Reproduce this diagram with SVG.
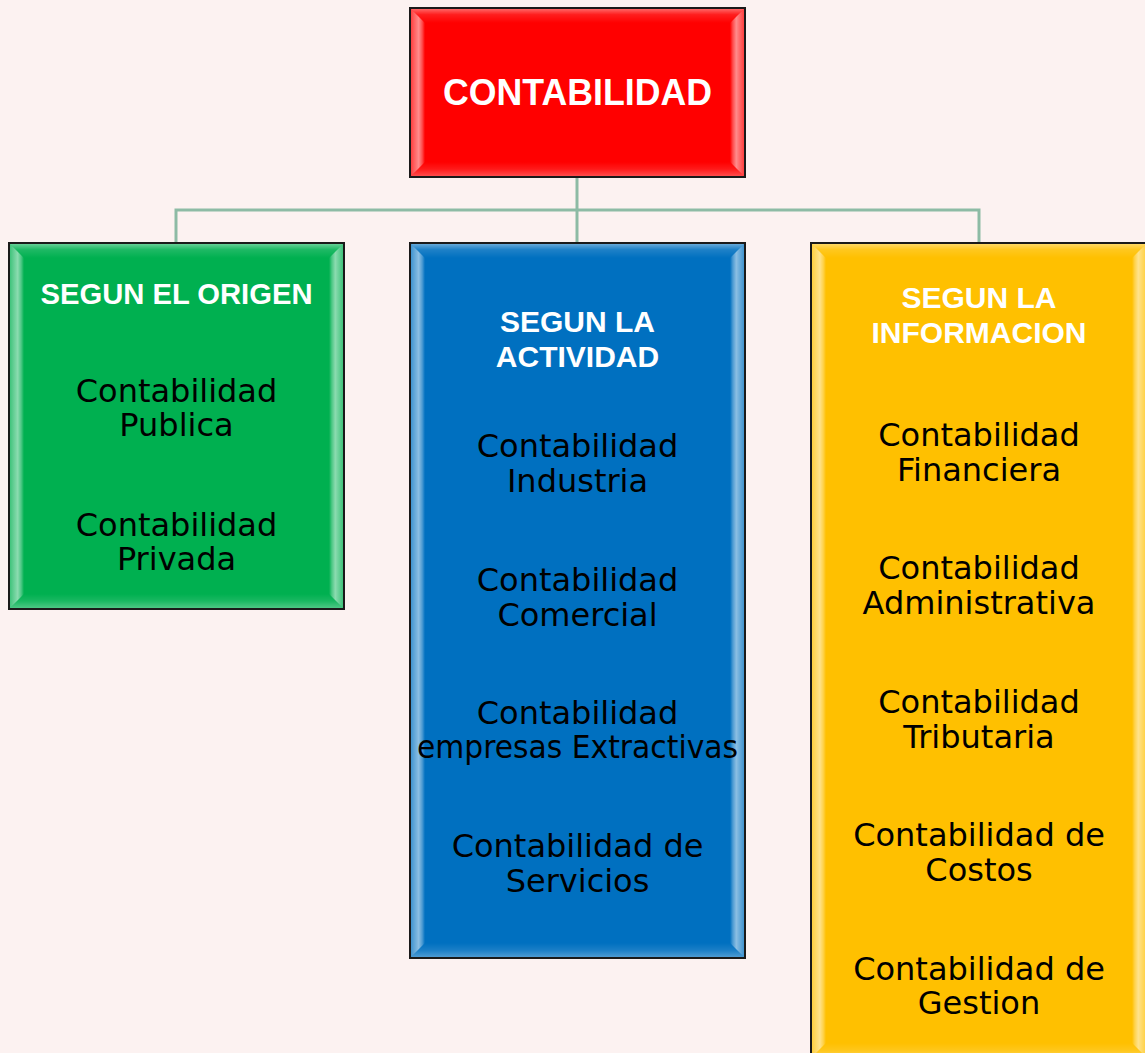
<svg xmlns="http://www.w3.org/2000/svg" width="1145" height="1053" viewBox="0 0 1145 1053">
<defs>
<linearGradient id="bvL" x1="0" y1="0" x2="1" y2="0">
<stop offset="0" stop-color="#fff" stop-opacity="0.25"/>
<stop offset="0.55" stop-color="#fff" stop-opacity="0.55"/>
<stop offset="0.8" stop-color="#fff" stop-opacity="0.3"/>
<stop offset="1" stop-color="#fff" stop-opacity="0"/>
</linearGradient>
<linearGradient id="bvR" x1="1" y1="0" x2="0" y2="0">
<stop offset="0" stop-color="#fff" stop-opacity="0.25"/>
<stop offset="0.55" stop-color="#fff" stop-opacity="0.55"/>
<stop offset="0.8" stop-color="#fff" stop-opacity="0.3"/>
<stop offset="1" stop-color="#fff" stop-opacity="0"/>
</linearGradient>
<linearGradient id="bvT" x1="0" y1="0" x2="0" y2="1">
<stop offset="0" stop-color="#fff" stop-opacity="0.4"/>
<stop offset="0.4" stop-color="#fff" stop-opacity="0.12"/>
<stop offset="1" stop-color="#fff" stop-opacity="0"/>
</linearGradient>
<linearGradient id="bvB" x1="0" y1="1" x2="0" y2="0">
<stop offset="0" stop-color="#fff" stop-opacity="0.3"/>
<stop offset="0.5" stop-color="#fff" stop-opacity="0.1"/>
<stop offset="1" stop-color="#fff" stop-opacity="0"/>
</linearGradient>
</defs>
<style>
.box{stroke:#1a1a1a;stroke-width:2}
.bl{fill:url(#bvL)}
.br{fill:url(#bvR)}
.bt{fill:url(#bvT)}
.bb{fill:url(#bvB)}
.head{font-family:"Liberation Sans",Arial,sans-serif;font-weight:bold;fill:#fff;text-anchor:middle}
.item{font-family:"DejaVu Sans","Liberation Sans",sans-serif;font-size:32px;fill:#000;text-anchor:middle}
.conn{fill:none;stroke:#8dbba5;stroke-width:3}
</style>
<rect x="0" y="0" width="1145" height="1053" fill="#fcf2f1"/>

<g id="connectors">
<path class="conn" d="M577,177 V210 M176,243 V210 H979 V243 M577,210 V243"/>
</g>

<g id="contabilidad">
<rect class="box" x="410" y="8" width="335" height="169" fill="#ff0000"/>
<polygon class="bt" points="411,9 744,9 730,23 425,23"/>
<polygon class="bb" points="411,176 744,176 730,162 425,162"/>
<polygon class="bl" points="411,9 425,23 425,162 411,176"/>
<polygon class="br" points="744,9 730,23 730,162 744,176"/>
<text class="head" x="577.5" y="105" font-size="36" textLength="269" lengthAdjust="spacingAndGlyphs">CONTABILIDAD</text>
</g>

<g id="segun-origen">
<rect class="box" x="9" y="243" width="335" height="366" fill="#00b050"/>
<polygon class="bt" points="10,244 343,244 329,258 24,258"/>
<polygon class="bb" points="10,608 343,608 329,594 24,594"/>
<polygon class="bl" points="10,244 24,258 24,594 10,608"/>
<polygon class="br" points="343,244 329,258 329,594 343,608"/>
<text class="head" x="176.5" y="304" font-size="30" textLength="272" lengthAdjust="spacingAndGlyphs">SEGUN EL ORIGEN</text>
<text class="item" x="176.5" y="402">Contabilidad</text>
<text class="item" x="176.5" y="436">Publica</text>
<text class="item" x="176.5" y="536">Contabilidad</text>
<text class="item" x="176.5" y="570">Privada</text>
</g>

<g id="segun-actividad">
<rect class="box" x="410" y="243" width="335" height="715" fill="#0070c0"/>
<polygon class="bt" points="411,244 744,244 730,258 425,258"/>
<polygon class="bb" points="411,957 744,957 730,943 425,943"/>
<polygon class="bl" points="411,244 425,258 425,943 411,957"/>
<polygon class="br" points="744,244 730,258 730,943 744,957"/>
<text class="head" x="577.5" y="332" font-size="30">SEGUN LA</text>
<text class="head" x="577.5" y="367" font-size="30">ACTIVIDAD</text>
<text class="item" x="577.5" y="457">Contabilidad</text>
<text class="item" x="577.5" y="492">Industria</text>
<text class="item" x="577.5" y="591">Contabilidad</text>
<text class="item" x="577.5" y="626">Comercial</text>
<text class="item" x="577.5" y="724">Contabilidad</text>
<text class="item" x="577.5" y="758" textLength="321" lengthAdjust="spacingAndGlyphs">empresas Extractivas</text>
<text class="item" x="577.5" y="857">Contabilidad de</text>
<text class="item" x="577.5" y="892">Servicios</text>
</g>

<g id="segun-informacion">
<rect class="box" x="811" y="243" width="336" height="815" fill="#ffc000"/>
<polygon class="bt" points="812,244 1146,244 1132,258 826,258"/>
<polygon class="bb" points="812,1057 1146,1057 1132,1043 826,1043"/>
<polygon class="bl" points="812,244 826,258 826,1043 812,1057"/>
<polygon class="br" points="1146,244 1132,258 1132,1043 1146,1057"/>
<text class="head" x="979" y="308" font-size="30">SEGUN LA</text>
<text class="head" x="979" y="343" font-size="30">INFORMACION</text>
<text class="item" x="979" y="446">Contabilidad</text>
<text class="item" x="979" y="481">Financiera</text>
<text class="item" x="979" y="579">Contabilidad</text>
<text class="item" x="979" y="614">Administrativa</text>
<text class="item" x="979" y="713">Contabilidad</text>
<text class="item" x="979" y="748">Tributaria</text>
<text class="item" x="979" y="846">Contabilidad de</text>
<text class="item" x="979" y="881">Costos</text>
<text class="item" x="979" y="980">Contabilidad de</text>
<text class="item" x="979" y="1014">Gestion</text>
</g>
</svg>
